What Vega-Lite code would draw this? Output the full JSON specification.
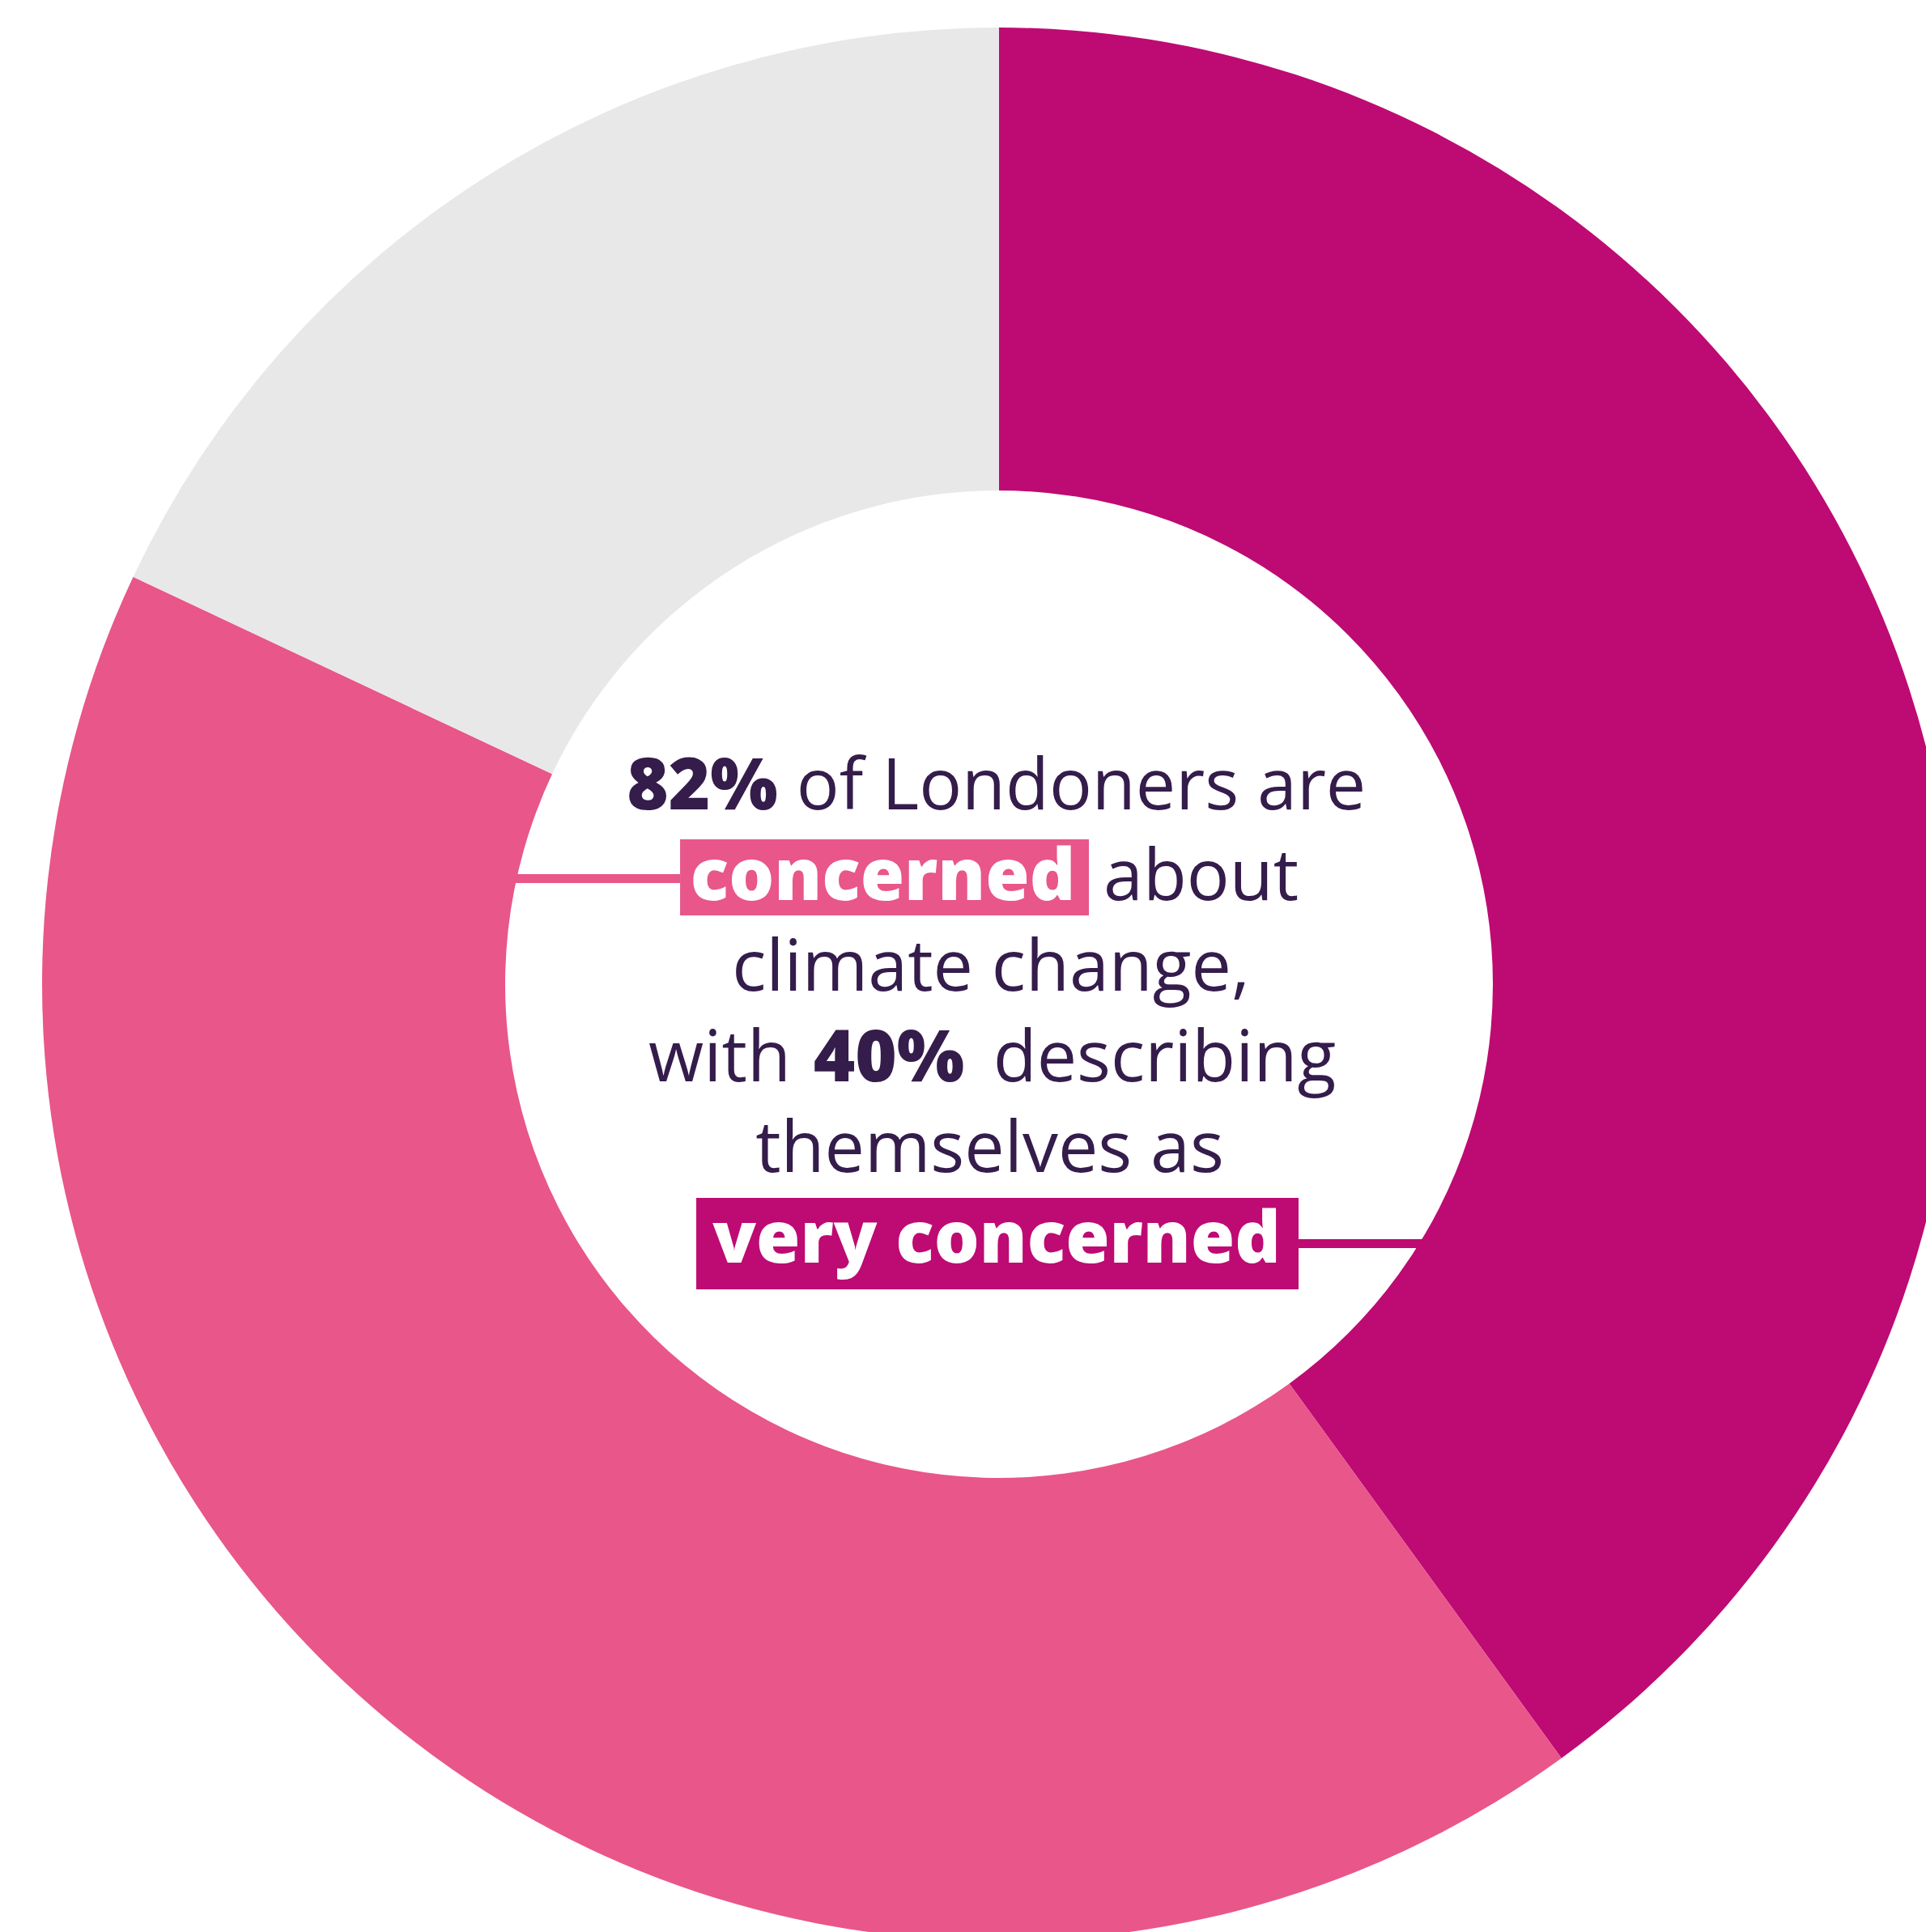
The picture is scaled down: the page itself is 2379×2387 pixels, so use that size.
{
  "$schema": "https://vega.github.io/schema/vega-lite/v6.json",
  "width": 2379,
  "height": 2387,
  "autosize": {"type": "none"},
  "padding": 0,
  "background": "white",
  "config": {"view": {"stroke": null}},
  "datasets": {
    "donut": [
      {"idx": 1, "category": "Very concerned", "percent": 40},
      {"idx": 2, "category": "Fairly concerned", "percent": 42},
      {"idx": 3, "category": "Not concerned", "percent": 18}
    ],
    "connectors": [
      {"category": "Fairly concerned", "x": -56, "x2": -33.33, "y": 11.51, "y2": 10.58},
      {"category": "Very concerned", "x": 31.3, "x2": 49, "y": -26.65, "y2": -27.58}
    ],
    "boxes": [
      {"category": "Fairly concerned", "x": -33.33, "x2": 9.39, "y": 15.14, "y2": 7.19},
      {"category": "Very concerned", "x": -31.64, "x2": 31.3, "y": -22.34, "y2": -31.9}
    ],
    "plainWords": [
      {"text": "of Londoners are", "x": 8.59, "y": 18.27},
      {"text": "about", "x": 21.11, "y": 8.8},
      {"text": "climate change,", "x": -0.85, "y": -0.68},
      {"text": "with", "x": -29.19, "y": -10.15},
      {"text": "describing", "x": 17.3, "y": -10.15},
      {"text": "themselves as", "x": -0.97, "y": -19.63}
    ],
    "boldWords": [
      {"text": "82%", "x": -31.01, "y": 18.27},
      {"text": "40%", "x": -11.51, "y": -10.15}
    ],
    "highlightWords": [
      {"text": "concerned", "x": -12.14, "y": 8.8},
      {"text": "very concerned", "x": -0.25, "y": -29.1}
    ]
  },
  "layer": [
    {
      "data": {"name": "connectors"},
      "mark": {"type": "rect"},
      "encoding": {
        "x": {"field": "x", "type": "quantitative", "scale": {"domain": [-104.4, 96.87], "nice": false, "zero": false}, "axis": null},
        "x2": {"field": "x2"},
        "y": {"field": "y", "type": "quantitative", "scale": {"domain": [-99.07, 102.88], "nice": false, "zero": false}, "axis": null},
        "y2": {"field": "y2"},
        "color": {"field": "category", "type": "nominal", "scale": {"domain": ["Very concerned", "Fairly concerned", "Not concerned"], "range": ["#BE0A73", "#E95689", "#E8E8E8"]}, "legend": null}
      }
    },
    {
      "data": {"name": "donut"},
      "mark": {"type": "arc", "radius": 1182, "radius2": 610},
      "encoding": {
        "x": {"datum": 0, "type": "quantitative"},
        "y": {"datum": 0, "type": "quantitative"},
        "theta": {"field": "percent", "type": "quantitative", "stack": true},
        "order": {"field": "idx", "type": "quantitative"},
        "color": {"field": "category", "type": "nominal", "legend": null}
      }
    },
    {
      "data": {"name": "boxes"},
      "mark": {"type": "rect"},
      "encoding": {
        "x": {"field": "x", "type": "quantitative"},
        "x2": {"field": "x2"},
        "y": {"field": "y", "type": "quantitative"},
        "y2": {"field": "y2"},
        "color": {"field": "category", "type": "nominal", "legend": null}
      }
    },
    {
      "data": {"name": "plainWords"},
      "mark": {"type": "text", "font": "Open Sans", "fontSize": 88, "fontWeight": 400, "color": "#341C4B", "align": "center", "baseline": "alphabetic"},
      "encoding": {
        "x": {"field": "x", "type": "quantitative"},
        "y": {"field": "y", "type": "quantitative"},
        "text": {"field": "text"}
      }
    },
    {
      "data": {"name": "boldWords"},
      "mark": {"type": "text", "font": "Open Sans", "fontSize": 88, "fontWeight": 800, "color": "#341C4B", "align": "center", "baseline": "alphabetic"},
      "encoding": {
        "x": {"field": "x", "type": "quantitative"},
        "y": {"field": "y", "type": "quantitative"},
        "text": {"field": "text"}
      }
    },
    {
      "data": {"name": "highlightWords"},
      "mark": {"type": "text", "font": "Open Sans", "fontSize": 88, "fontWeight": 800, "color": "#FFFFFF", "align": "center", "baseline": "alphabetic"},
      "encoding": {
        "x": {"field": "x", "type": "quantitative"},
        "y": {"field": "y", "type": "quantitative"},
        "text": {"field": "text"}
      }
    }
  ]
}
